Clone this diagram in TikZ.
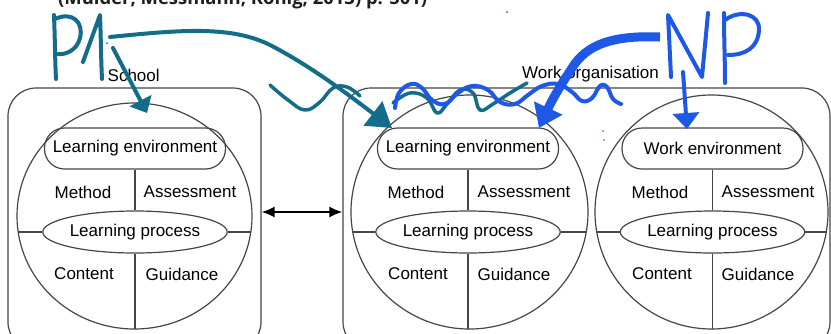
\documentclass[tikz,border=0pt]{standalone}
\usepackage{fontspec}
\setmainfont{Liberation Sans}
\newfontfamily\citefont{Open Sans}
\usetikzlibrary{shapes.geometric,arrows.meta}
\definecolor{linegray}{RGB}{70,70,70}
\definecolor{penteal}{RGB}{18,108,138}
\definecolor{penblue}{RGB}{30,88,230}
\begin{document}
\begin{tikzpicture}[x=1pt,y=-1pt,
  every node/.style={font=\fontsize{17}{20}\selectfont, text=black},
  frame/.style={draw=linegray, line width=1.2pt, rounded corners=28pt, inner sep=0pt},
  envbox/.style={draw=linegray, line width=1.2pt, rounded corners=20pt, minimum width=181pt, minimum height=41pt, inner sep=0pt},
  procell/.style={draw=linegray, line width=1.2pt, ellipse, minimum width=168pt, minimum height=42pt, inner sep=0pt},
  lbl/.style={inner sep=0pt},
  thin/.style={draw=linegray, line width=1.2pt},
  tealpen/.style={draw=penteal, line width=4pt, line cap=round, line join=round},
  bluepen/.style={draw=penblue, line width=4pt, line cap=round, line join=round}]
\useasboundingbox (0,0) rectangle (831,333);
\clip (0,0) rectangle (831,333);
\fill[white] (0,0) rectangle (831,333);

% citation (cut at top, as in the source)
\node[anchor=base west, inner sep=0pt, font=\citefont\fontsize{17}{20}\selectfont, text={rgb,255:red,30;green,30;blue,30}] (cite) at (58,4.5) {\resizebox{369pt}{!}{\fontseries{sb}\selectfont(Mulder, Messmann, König, 2013) p. 501)}};

% frames
\node[frame, minimum width=253pt, minimum height=262pt] (school) at (134.5,219) {};
\node[frame, minimum width=487pt, minimum height=262pt] (work) at (586.5,219) {};
\node[lbl, anchor=west] (schoollbl) at (107.5,75) {School};
\node[lbl, anchor=west] (worklbl) at (522,74) {Work organisation};

% double arrow
\coordinate (arrowy) at (0,212);
\draw[line width=1.8pt, {Latex[length=13pt,width=11pt]}-{Latex[length=13pt,width=11pt]}] (school.east |- arrowy) -- (work.west |- arrowy);

% ---------- circle 1 ----------
\draw[thin] (134.5,216) ellipse [x radius=117.5pt, y radius=113pt];
\node[envbox] (env1) at (135,148.5) {Learning environment};
\node[procell] (lp1) at (135,232) {Learning process};
\coordinate (l1) at (18.2,232); \coordinate (r1) at (250.8,232); \coordinate (b1) at (135,329);
\draw[thin] (env1.south) -- (lp1.north);
\draw[thin] (lp1.south) -- (b1);
\draw[thin] (l1) -- (lp1.west);
\draw[thin] (lp1.east) -- (r1);
\node[lbl] (m1) at (83,192) {Method};
\node[lbl] (a1) at (190,192) {Assessment};
\node[lbl] (c1) at (84,274) {Content};
\node[lbl] (g1) at (182,274) {Guidance};

% ---------- circle 2 ----------
\draw[thin] (469.5,212) ellipse [x radius=118.5pt, y radius=117pt];
\node[envbox] (env2) at (468,148.5) {Learning environment};
\node[procell] (lp2) at (468,232) {Learning process};
\coordinate (l2) at (352.7,232); \coordinate (r2) at (586.3,232); \coordinate (b2) at (468,329);
\draw[thin] (env2.south) -- (lp2.north);
\draw[thin] (lp2.south) -- (b2);
\draw[thin] (l2) -- (lp2.west);
\draw[thin] (lp2.east) -- (r2);
\node[lbl] (m2) at (416,192) {Method};
\node[lbl] (a2) at (524,192) {Assessment};
\node[lbl] (c2) at (418,274) {Content};
\node[lbl] (g2) at (514,274) {Guidance};

% ---------- circle 3 ----------
\draw[thin] (711.5,212) ellipse [x radius=116.5pt, y radius=117pt];
\node[envbox] (env3) at (712.5,148.5) {Work environment};
\node[procell] (lp3) at (712.5,232) {Learning process};
\coordinate (l3) at (596.7,232); \coordinate (r3) at (826.3,232); \coordinate (b3) at (712.5,329);
\draw[thin] (env3.south) -- (lp3.north);
\draw[thin] (lp3.south) -- (b3);
\draw[thin] (l3) -- (lp3.west);
\draw[thin] (lp3.east) -- (r3);
\node[lbl] (m3) at (660,192) {Method};
\node[lbl] (a3) at (768,192) {Assessment};
\node[lbl] (c3) at (662,274) {Content};
\node[lbl] (g3) at (758,274) {Guidance};

% ---------- handwritten annotations ----------
% PA
\draw[tealpen] (54,15) .. controls (55,40) and (55,60) .. (56,79);
\draw[tealpen] (55,19) .. controls (72,11) and (84,22) .. (80,38) .. controls (77,50) and (66,55) .. (58,54);
\draw[tealpen] (83,62) -- (100,15) .. controls (101,40) and (101,60) .. (102,79);
% PA arrows
\draw[tealpen, -{Triangle[length=14pt,width=24pt]}] (113,48) -- (147,113);
\draw[tealpen, -{Triangle[length=24pt,width=30pt]}] (110,37) .. controls (180,30) and (232,25) .. (272,46) .. controls (310,66) and (345,92) .. (392,128);
% teal squiggles
\draw[tealpen, line width=3.5pt] plot[smooth, tension=0.7] coordinates {(270,85) (288,100) (305,110) (320,102) (333,88) (347,87) (360,96)};
\draw[tealpen, line width=3.5pt] plot[smooth, tension=0.7] coordinates {(393,103) (410,93) (427,98) (437,113) (447,104) (460,90) (473,93) (480,110) (493,104) (510,93) (527,83)};
% blue squiggle
\draw[bluepen] plot[smooth, tension=0.7] coordinates {(395,108) (399,93) (411,84) (422,88) (432,100) (445,104) (458,93) (472,86) (488,90) (500,102) (515,104) (528,95) (542,86) (558,84) (572,92) (582,101) (592,98) (600,86) (607,87) (613,99) (621,104)};
% NP
\draw[bluepen] (671,77) .. controls (670,55) and (669,35) .. (668,15) -- (702,77) .. controls (704,55) and (706,35) .. (708,13);
\draw[bluepen] (724,13) .. controls (724,40) and (725,60) .. (725,83);
\draw[bluepen] (725,20) .. controls (740,9) and (760,14) .. (759,30) .. controls (758,48) and (745,55) .. (728,55);
% NP arrows
\draw[bluepen, line width=9pt, line cap=butt, -{Triangle[length=22pt,width=30pt]}] (660,37) .. controls (612,35) and (586,45) .. (572,68) .. controls (560,86) and (552,100) .. (539,128);
\draw[bluepen, -{Triangle[length=16pt,width=26pt]}] (683,72) -- (687,129);
% dots
\fill[penblue] (107,43) circle[radius=1pt];
\fill[penteal] (507,12) circle[radius=1pt];
\fill[penteal] (603,131) circle[radius=0.9pt];
\fill[penblue] (604,140) circle[radius=0.8pt];
\end{tikzpicture}
\end{document}
